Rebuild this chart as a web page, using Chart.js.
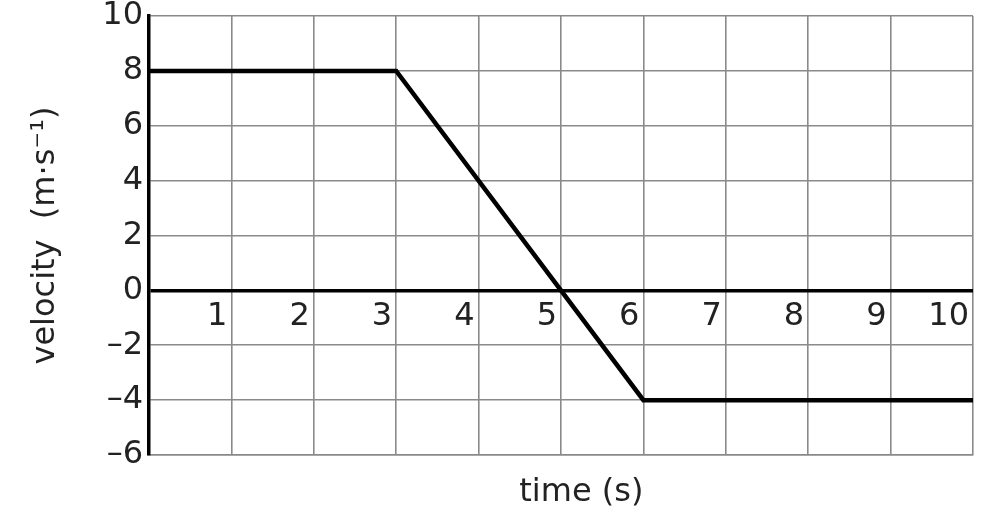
<!DOCTYPE html>
<html>
<head>
<meta charset="utf-8">
<script src="https://cdn.jsdelivr.net/npm/chart.js@4.4.1/dist/chart.umd.min.js"></script>
<style>
  html, body { margin: 0; padding: 0; background: #fff; }
  #wrap { width: 988px; height: 514px; }
</style>
</head>
<body>
<div id="wrap"><canvas id="velocityChart" width="988" height="514"></canvas></div>
<script>
// graph data
const times = [0, 3, 6, 10];
const velocities = [8, 8, -4, -4];
const xTickValues = [1, 2, 3, 4, 5, 6, 7, 8, 9, 10];
const xTickLabels = ['1', '2', '3', '4', '5', '6', '7', '8', '9', '10'];

const textColor = '#222';
const gridColor = '#8a8a8a';
const fontFamily = '"DejaVu Sans", sans-serif';

// x labels sit inside the plot, just under the zero line
const insideXLabels = {
  id: 'insideXLabels',
  afterDraw(chart) {
    const ctx = chart.ctx;
    const xs = chart.scales.x;
    const ys = chart.scales.y;
    const y0 = ys.getPixelForValue(0);
    ctx.save();
    ctx.font = '32px ' + fontFamily;
    ctx.fillStyle = textColor;
    ctx.textAlign = 'right';
    ctx.textBaseline = 'middle';
    xTickValues.forEach((v, i) => {
      ctx.fillText(xTickLabels[i], xs.getPixelForValue(v) - 4, y0 + 26);
    });
    ctx.restore();
  },
};

const canvas = document.getElementById('velocityChart');
new Chart(canvas, {
  type: 'line',
  data: {
    datasets: [
      {
        data: times.map((t, i) => ({ x: t, y: velocities[i] })),
        borderColor: '#000',
        borderWidth: 4.5,
        pointRadius: 0,
        tension: 0,
      },
    ],
  },
  options: {
    responsive: false,
    animation: false,
    layout: { padding: { left: 0, top: 16, right: 15, bottom: 0 } },
    plugins: {
      legend: { display: false },
      tooltip: { enabled: false },
    },
    scales: {
      x: {
        type: 'linear',
        min: 0,
        max: 10,
        ticks: { display: false, stepSize: 1 },
        grid: { color: gridColor, lineWidth: 1.6, drawTicks: false },
        border: { color: gridColor, width: 1.6 },
        title: {
          display: true,
          text: '    time (s)', // leading spaces nudge it right like the original
          color: textColor,
          font: { size: 32, family: fontFamily },
          padding: { top: 0, bottom: 2 },
        },
        afterFit: (scale) => {
          scale.height = 59;
          scale.paddingLeft = 0;
          scale.paddingRight = 0;
        },
      },
      y: {
        min: -6,
        max: 10,
        ticks: {
          stepSize: 2,
          color: textColor,
          padding: 6,
          font: { size: 32, family: fontFamily },
          callback: (v) => String(v).replace('-', '\u2013'),
        },
        grid: {
          drawTicks: false,
          color: (c) => (c.tick && c.tick.value === 0 ? '#000' : gridColor),
          lineWidth: (c) => (c.tick && c.tick.value === 0 ? 3.5 : 1.6),
        },
        border: { color: '#000', width: 3.5 },
        title: {
          display: true,
          text: 'velocity  (m\u00b7s\u207b\u00b9)',
          color: textColor,
          font: { size: 32, family: fontFamily },
          padding: { top: 26, bottom: 0 },
        },
        afterFit: (scale) => {
          scale.width = 149;
          scale.paddingTop = 0;
          scale.paddingBottom = 0;
        },
      },
    },
  },
  plugins: [insideXLabels],
});
</script>
</body>
</html>
